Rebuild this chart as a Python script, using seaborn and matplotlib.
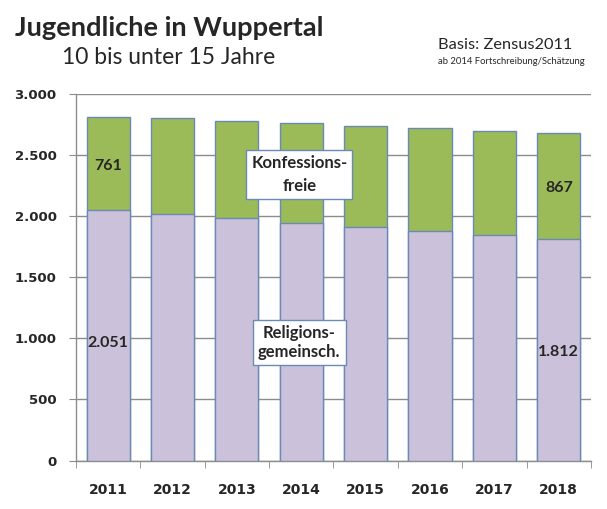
import numpy as np
import pandas as pd
import seaborn as sns
import matplotlib.pyplot as plt
from matplotlib.ticker import FuncFormatter, FixedLocator

# Daten
jahre = ["2011", "2012", "2013", "2014", "2015", "2016", "2017", "2018"]
religion = [2051, 2015, 1983, 1942, 1910, 1877, 1845, 1812]
konfessionsfrei = [761, 785, 795, 820, 827, 844, 851, 867]

df = pd.DataFrame({"Jahr": jahre, "Religion": religion, "Frei": konfessionsfrei})
df["Gesamt"] = df["Religion"] + df["Frei"]

sns.set_style("white")
plt.rcParams["font.family"] = ["Lato", "DejaVu Sans"]

gruen = "#9BBB59"
lila = "#CCC1DA"
rand = "#6A8AB5"
grau = "#8C8C8C"

fig = plt.figure(figsize=(6.07, 5.09), dpi=100)
ax = fig.add_axes([0.1252, 0.0949, 0.8484, 0.7214])

sns.barplot(data=df, x="Jahr", y="Gesamt", color=gruen, width=0.67,
            edgecolor=rand, linewidth=1.0, saturation=1, ax=ax, zorder=3)
sns.barplot(data=df, x="Jahr", y="Religion", color=lila, width=0.67,
            edgecolor=rand, linewidth=1.0, saturation=1, ax=ax, zorder=4)

ax.set_ylim(0, 3000)
ax.set_xlim(-0.5, len(jahre) - 0.5)
ax.set_yticks(np.arange(0, 3001, 500))
ax.yaxis.set_major_formatter(FuncFormatter(lambda v, p: f"{int(v):,}".replace(",", ".")))
ax.yaxis.grid(True, color=grau, linewidth=1.0, zorder=0)
ax.set_axisbelow(True)
ax.set_xlabel("")
ax.set_ylabel("")

for s in ["top", "right"]:
    ax.spines[s].set_visible(False)
for s in ["left", "bottom"]:
    ax.spines[s].set_color(grau)
    ax.spines[s].set_linewidth(1.0)

ax.tick_params(axis="y", which="major", length=5, color=grau, pad=9, left=True)
ax.tick_params(axis="x", which="major", length=0, pad=16)
ax.xaxis.set_minor_locator(FixedLocator(np.arange(-0.5, len(jahre), 1)))
ax.tick_params(axis="x", which="minor", length=5, color=grau, bottom=True)
for lbl in ax.get_yticklabels():
    lbl.set_fontfamily("DejaVu Sans")
    lbl.set_fontweight("bold")
    lbl.set_fontsize(9.5)
for lbl in ax.get_xticklabels():
    lbl.set_fontfamily("DejaVu Sans")
    lbl.set_fontweight("bold")
    lbl.set_fontsize(10)

# Wertbeschriftungen
def fmt(v):
    return f"{v:,}".replace(",", ".")

wl = dict(ha="center", va="center", fontsize=11.5, fontweight="bold", zorder=6)
ax.text(0, religion[0] + konfessionsfrei[0] / 2 - 20, fmt(konfessionsfrei[0]), **wl)
ax.text(7, religion[7] + konfessionsfrei[7] / 2 - 20, fmt(konfessionsfrei[7]), **wl)
ax.text(0, 960, fmt(religion[0]), **wl)
ax.text(7, 888, fmt(religion[7]), **wl)

box = dict(boxstyle="square,pad=0.3", facecolor="white", edgecolor=rand, linewidth=1.0)
ax.text(2.97, 2340, "Konfessions-\nfreie", ha="center", va="center", fontsize=12,
        fontweight="bold", linespacing=1.5, bbox=box, zorder=7)
ax.text(2.97, 966, "Religions-\ngemeinsch.", ha="center", va="center", fontsize=12,
        fontweight="bold", linespacing=1.3, bbox=box, zorder=7)

# Titel
fig.text(15 / 607, 1 - 28 / 509, "Jugendliche in Wuppertal", fontsize=19.6,
         fontweight="bold", ha="left", va="center")
fig.text(62 / 607, 1 - 58 / 509, "10 bis unter 15 Jahre", fontsize=16.5,
         ha="left", va="center")
fig.text(438 / 607, 1 - 45 / 509, "Basis: Zensus2011", fontsize=11.8,
         ha="left", va="center")
fig.text(438 / 607, 1 - 62 / 509, "ab 2014 Fortschreibung/Schätzung", fontsize=6.8,
         ha="left", va="center")

fig.savefig("out.png", dpi=100)
